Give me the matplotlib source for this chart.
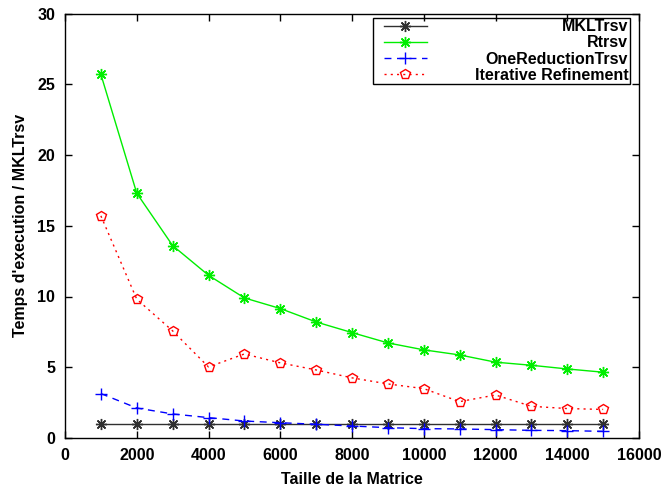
import matplotlib
matplotlib.use("Agg")
import matplotlib.pyplot as plt
from matplotlib.patches import Rectangle

plt.rcParams['font.family'] = ['Liberation Sans', 'DejaVu Sans']
plt.rcParams['font.weight'] = 'bold'

sizes = [1000, 2000, 3000, 4000, 5000, 6000, 7000, 8000, 9000, 10000,
         11000, 12000, 13000, 14000, 15000]
mkl = [1.0] * 15
rtrsv = [25.7, 17.3, 13.6, 11.5, 9.9, 9.15, 8.2, 7.45, 6.72, 6.23,
         5.87, 5.36, 5.14, 4.88, 4.65]
onered = [3.14, 2.12, 1.70, 1.44, 1.20, 1.08, 0.97, 0.85, 0.73, 0.66,
          0.64, 0.59, 0.54, 0.52, 0.47]
iterref = [15.7, 9.81, 7.57, 5.02, 5.94, 5.31, 4.81, 4.25, 3.82, 3.49,
           2.57, 3.04, 2.24, 2.08, 2.02]

xticks = [0, 2000, 4000, 6000, 8000, 10000, 12000, 14000, 16000]
yticks = [0, 5, 10, 15, 20, 25, 30]

FS = 11.5
W, H = 663, 488
fig = plt.figure(figsize=(W / 100, H / 100), dpi=100)
ax = fig.add_axes([65 / W, 1 - 438 / H, (639 - 65) / W, (438 - 13.5) / H])

ax.plot(sizes, mkl, color='#303030', lw=1, marker=(8, 2, 0), ms=8, mew=1,
        label='MKLTrsv')
ax.plot(sizes, rtrsv, color='#00ee00', lw=1, marker=(8, 2, 0), ms=8, mew=1,
        label='Rtrsv')
ax.plot(sizes, onered, color='#0000ff', lw=1, ls=(0, (5, 4)), marker='+',
        ms=8, mew=1, label='OneReductionTrsv')
ax.plot(sizes, iterref, color='#ff0000', lw=1, ls=(0, (1.5, 3)), marker='p',
        ms=7, mew=1, mfc='none', label='Iterative Refinement')

ax.set_xlim(0, 16000)
ax.set_ylim(0, 30)
ax.set_xticks(xticks)
ax.set_yticks(yticks)
ax.tick_params(direction='in', top=True, right=True, length=5, width=1,
               labelsize=FS, pad=7)
for lab in ax.get_xticklabels() + ax.get_yticklabels():
    lab.set_fontweight('bold')
for s in ax.spines.values():
    s.set_linewidth(1)

ax.set_xlabel('Taille de la Matrice', fontsize=FS, fontweight='bold', labelpad=7)
ax.set_ylabel("Temps d'execution / MKLTrsv", fontsize=FS, fontweight='bold', labelpad=7)

leg = ax.legend(loc='upper right', bbox_to_anchor=(0.9826, 0.9885),
                frameon=False, fontsize=FS, handlelength=2.7, borderpad=0.05,
                labelspacing=0.08, handletextpad=3.0, borderaxespad=0)
for t in leg.get_texts():
    t.set_fontweight('bold')

fig.canvas.draw()
renderer = fig.canvas.get_renderer()
widths = [t.get_window_extent(renderer).width for t in leg.get_texts()]
maxw = max(widths)
for t, w in zip(leg.get_texts(), widths):
    t.set_position((maxw - w, 0))

# legend frame (gnuplot style: wider padding on the left)
fig.canvas.draw()
bb = leg.get_window_extent(renderer)
inv = ax.transAxes.inverted()
(x0, y0), (x1, y1) = inv.transform([(bb.x0 - 10, bb.y0), (bb.x1 + 1, bb.y1)])
ax.add_patch(Rectangle((x0, y0), x1 - x0, y1 - y0, transform=ax.transAxes,
                       fill=False, edgecolor='black', lw=1, zorder=5))

fig.savefig('out.png', dpi=100)
